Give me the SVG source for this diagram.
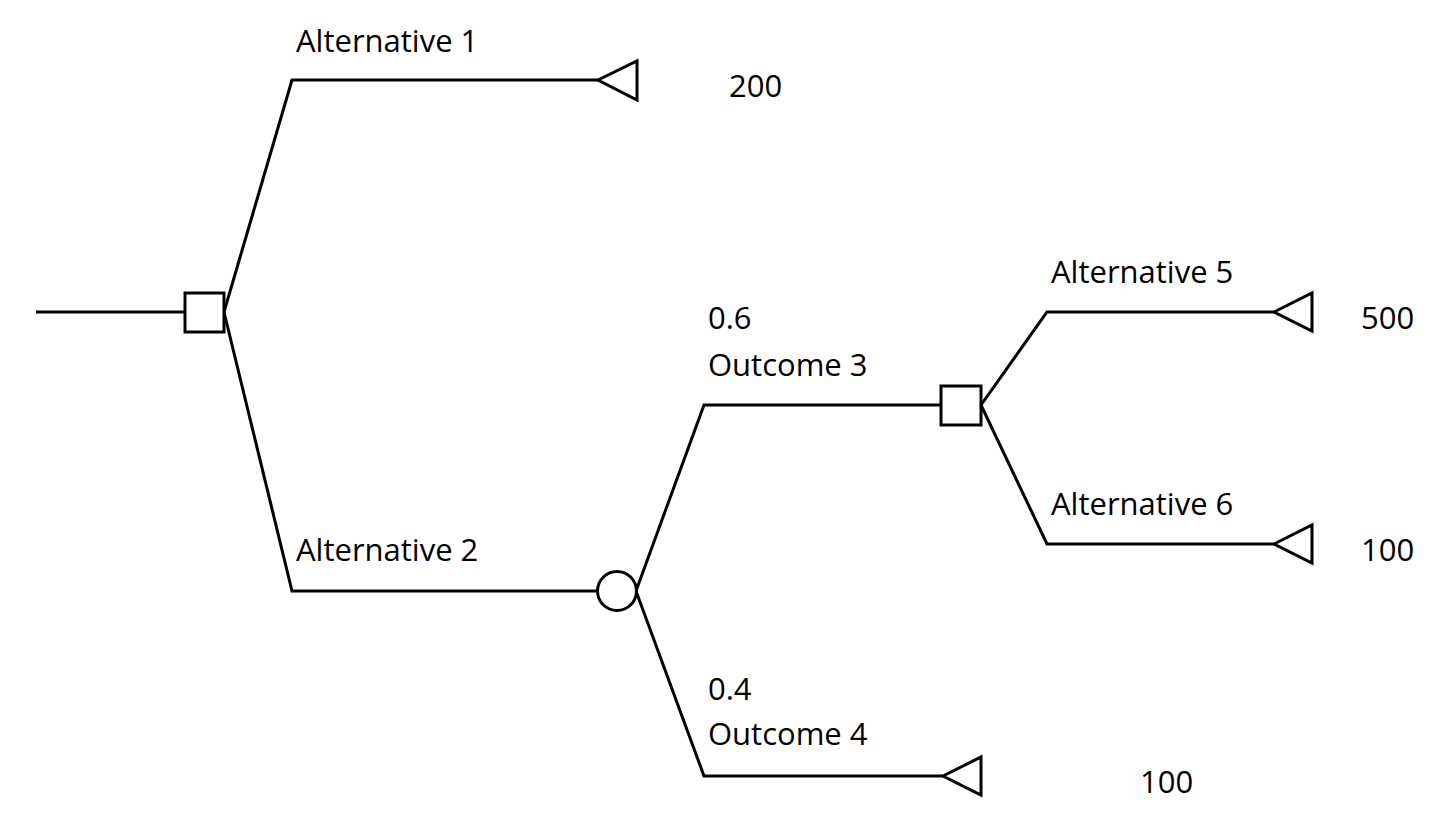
<svg xmlns="http://www.w3.org/2000/svg" width="1450" height="826" viewBox="0 0 1450 826">
<style>
.ln{fill:none;stroke:#000;stroke-width:3;stroke-linejoin:miter}
.nd{fill:#fff;stroke:#000;stroke-width:3}
.tx{font-family:"Open Sans","Noto Sans",sans-serif;font-size:31px;fill:#000}
</style>
<rect width="1450" height="826" fill="#fff"/>
<g id="connectors">
<polyline class="ln" points="36,312 185,312"/>
<polyline class="ln" points="224,312 292,80 598,80"/>
<polyline class="ln" points="224,312 292,591 598,591"/>
<polyline class="ln" points="636,591 704,405 941,405"/>
<polyline class="ln" points="636,591 704,776 943,776"/>
<polyline class="ln" points="981,405 1047,312 1274,312"/>
<polyline class="ln" points="981,405 1047,544 1274,544"/>
</g>
<g id="decision1"><rect class="nd" x="185" y="293" width="39" height="39"/></g>
<g id="chance1"><circle class="nd" cx="617" cy="591" r="19.5"/></g>
<g id="decision2"><rect class="nd" x="941" y="386" width="40" height="39"/></g>
<g id="end1"><polygon class="nd" points="598,80 637,61 637,100"/><text class="tx" x="729" y="97">200</text></g>
<g id="end4"><polygon class="nd" points="943,776 981,757 981,795"/><text class="tx" x="1140" y="793">100</text></g>
<g id="end5"><polygon class="nd" points="1274,312 1312,293 1312,331"/><text class="tx" x="1361" y="329">500</text></g>
<g id="end6"><polygon class="nd" points="1274,544 1312,525 1312,563"/><text class="tx" x="1361" y="561">100</text></g>
<g id="labels">
<text class="tx" x="296" y="52">Alternative 1</text>
<text class="tx" x="296" y="561">Alternative 2</text>
<text class="tx" x="708" y="329">0.6</text>
<text class="tx" x="708" y="376">Outcome 3</text>
<text class="tx" x="708" y="700">0.4</text>
<text class="tx" x="708" y="745">Outcome 4</text>
<text class="tx" x="1051" y="283">Alternative 5</text>
<text class="tx" x="1051" y="515">Alternative 6</text>
</g>
</svg>
